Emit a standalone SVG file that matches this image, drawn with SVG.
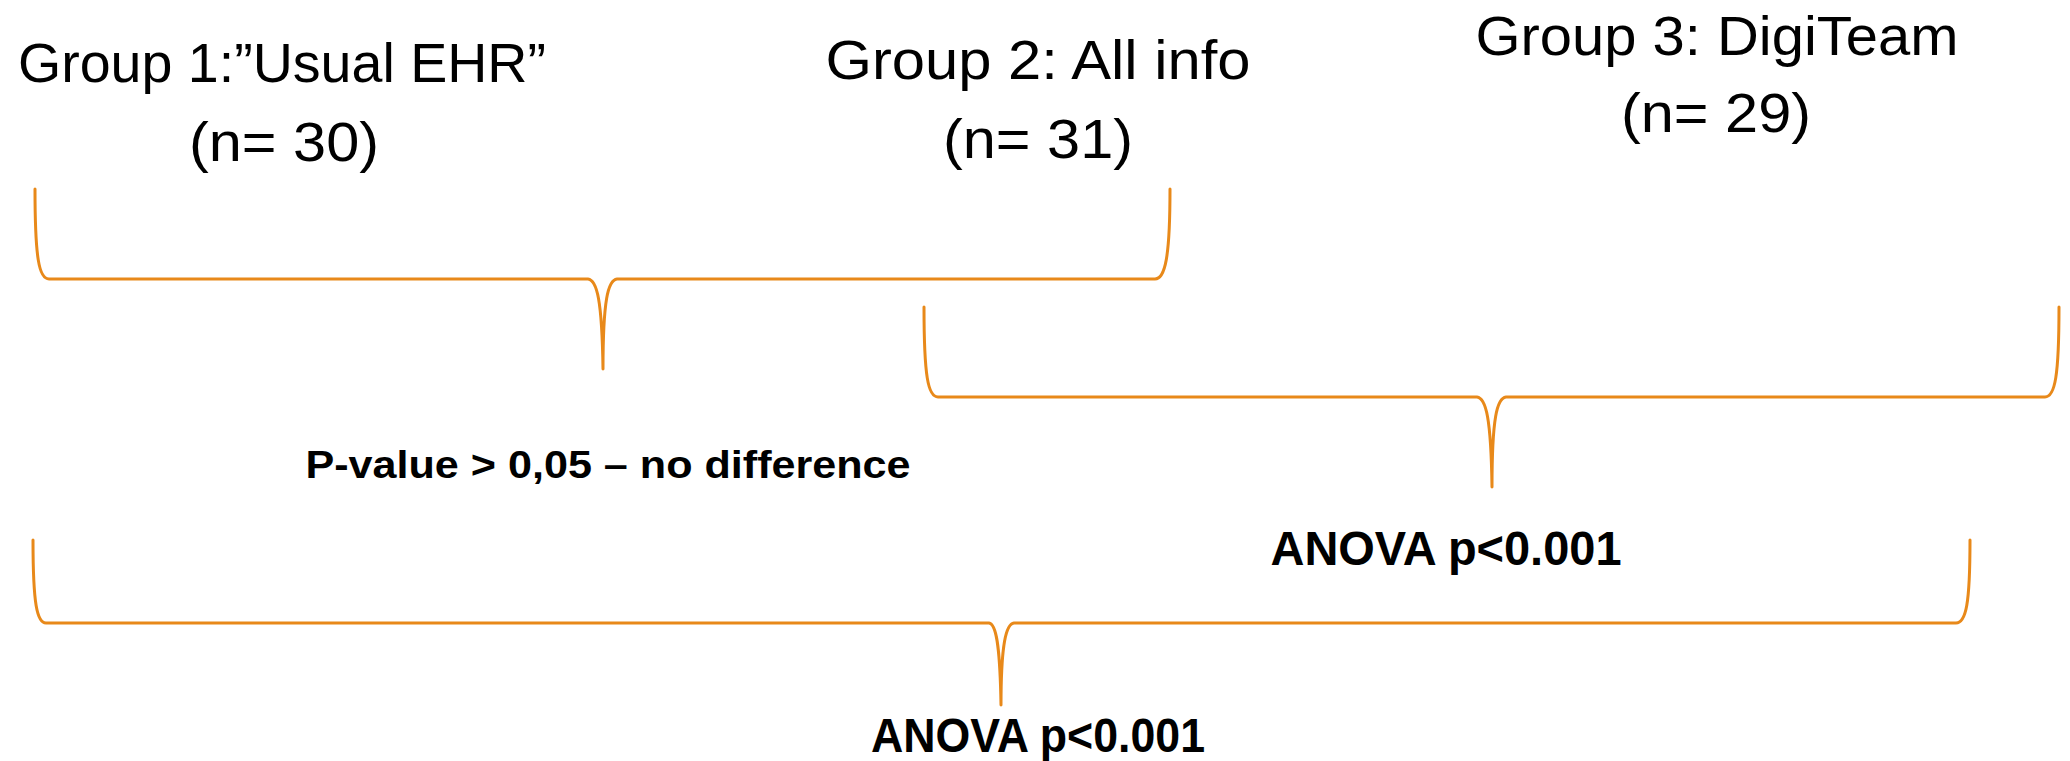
<svg xmlns="http://www.w3.org/2000/svg" width="2070" height="761" viewBox="0 0 2070 761">
<style>
.lbl{font-family:"Liberation Sans",Arial,sans-serif;font-size:56px;fill:#000;text-anchor:middle}
.res{font-family:"Liberation Sans",Arial,sans-serif;font-weight:bold;fill:#000;text-anchor:middle}
.brace{fill:none;stroke:#E8891A;stroke-width:3;stroke-linecap:round;stroke-linejoin:round}
</style>
<rect width="2070" height="761" fill="#fff"/>
<g id="group1">
<text class="lbl" x="282" y="82" textLength="528" lengthAdjust="spacingAndGlyphs">Group 1:”Usual EHR”</text>
<text class="lbl" x="284" y="161" textLength="190" lengthAdjust="spacingAndGlyphs">(n= 30)</text>
</g>
<g id="group2">
<text class="lbl" x="1038" y="79" textLength="425" lengthAdjust="spacingAndGlyphs">Group 2: All info</text>
<text class="lbl" x="1038" y="158" textLength="190" lengthAdjust="spacingAndGlyphs">(n= 31)</text>
</g>
<g id="group3">
<text class="lbl" x="1717" y="55" textLength="483" lengthAdjust="spacingAndGlyphs">Group 3: DigiTeam</text>
<text class="lbl" x="1716" y="132" textLength="190" lengthAdjust="spacingAndGlyphs">(n= 29)</text>
</g>
<g id="result12">
<text class="res" x="608" y="478" font-size="38" textLength="605" lengthAdjust="spacingAndGlyphs">P-value &gt; 0,05 – no difference</text>
</g>
<g id="result23">
<text class="res" x="1446" y="565" font-size="48" textLength="351" lengthAdjust="spacingAndGlyphs">ANOVA p&lt;0.001</text>
</g>
<g id="result13">
<text class="res" x="1038" y="752" font-size="48" textLength="334" lengthAdjust="spacingAndGlyphs">ANOVA p&lt;0.001</text>
</g>
<g id="connectors">
<path class="brace" d="M35,189 C35,258 39,279 49,279 H588 C597,280 602,300 603,369 C603,300 608,280 617,279 H1155 C1165,279 1170,258 1170,189"/>
<path class="brace" d="M924,307 C924,376 928,397 938,397 H1477 C1486,398 1491,418 1492,487 C1492,418 1497,398 1506,397 H2045 C2055,397 2059,376 2059,307"/>
<path class="brace" d="M33,540 C33,604 37,623 46,623 H989 C996,624 1000,644 1001,705 C1001,644 1006,624 1014,623 H1956 C1966,623 1970,604 1970,540"/>
</g>
</svg>
